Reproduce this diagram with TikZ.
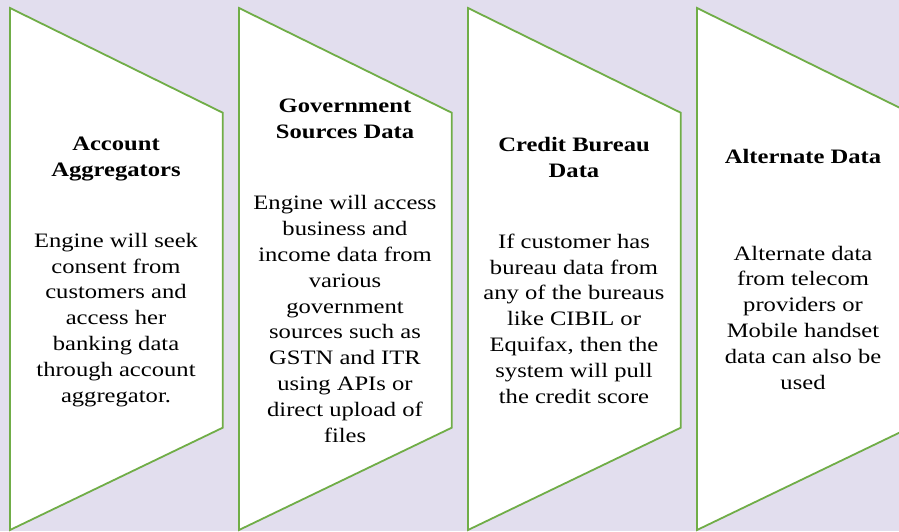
\documentclass[tikz,border=0pt]{standalone}
\usepackage{fontspec}
\setmainfont{Liberation Serif}
\newfontfamily\widefont[FakeStretch=1.2]{Liberation Serif}
\definecolor{bgLav}{HTML}{E2DEEE}
\definecolor{edgeGr}{HTML}{70AD47}

\begin{document}
\begin{tikzpicture}[x=1pt,y=-1pt,
    chev/.style={fill=white,draw=edgeGr,line width=1.8pt,line join=miter},
    headtxt/.style={anchor=base,align=center,inner sep=0pt,
      font=\widefont\fontsize{20.5}{25.8}\selectfont\bfseries},
    bodytxt/.style={anchor=base,align=center,inner sep=0pt,
      font=\widefont\fontsize{20.5}{25.8}\selectfont}]
    \useasboundingbox (0,0) rectangle (899,531);
    \fill[bgLav] (0,0) rectangle (899,531);
    \clip (0,0) rectangle (899,531);
    % last-line baselines of title and body
    \foreach \i/\head/\hy/\body/\by in {%
      0/{Account\\Aggregators}/176/{Engine will seek\\consent from\\customers and\\access her\\banking data\\through account\\aggregator.}/402,
      1/{Government\\Sources Data}/138/{Engine will access\\business and\\income data from\\various\\government\\sources such as\\GSTN and ITR\\using APIs or\\direct upload of\\files}/442,
      2/{Credit Bureau\\Data}/177/{If customer has\\bureau data from\\any of the bureaus\\like CIBIL or\\Equifax, then the\\system will pull\\the credit score}/403,
      3/{Alternate Data}/163/{Alternate data\\from telecom\\providers or\\Mobile handset\\data can also be\\used}/389}{
      \draw[chev] (10+229*\i,8) -- (222.7+229*\i,112.7) -- (222.7+229*\i,427.7)
        -- (10+229*\i,530) -- cycle;
      \node[headtxt] (head\i) at (116+229*\i,\hy) {\head};
      \node[bodytxt] (body\i) at (116+229*\i,\by) {\body};}
\end{tikzpicture}
\end{document}
